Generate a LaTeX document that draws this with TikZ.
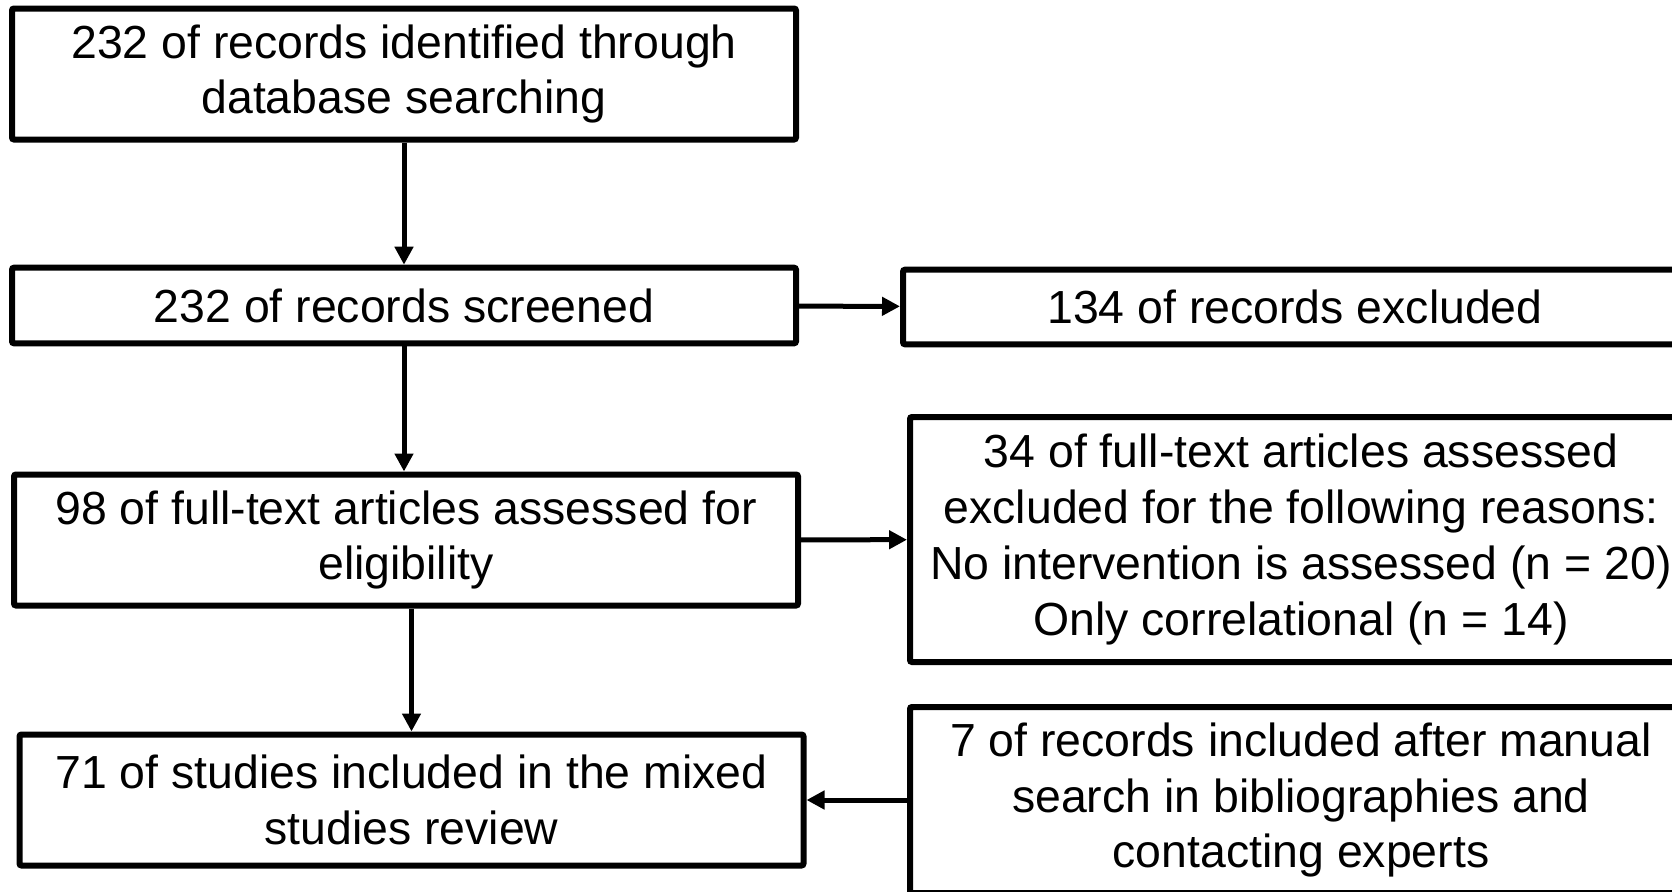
\documentclass[tikz,border=0pt]{standalone}
\usepackage{fontspec}
\setmainfont{Liberation Sans}
\usetikzlibrary{arrows.meta}

\begin{document}
\begin{tikzpicture}[x=0.5pt,y=-0.5pt,
    box/.style={draw, line width=3pt, rounded corners=1pt, align=center, inner sep=0pt,
      font=\fontsize{23.2}{27.9}\selectfont, minimum width=392pt},
    arr/.style={line width=2.5pt, -{Triangle[length=9pt,width=9pt]}}]
  \useasboundingbox (0,0) rectangle (1672,891);
  \clip (0,0) rectangle (1672,891);
  \node[box, minimum height=65.5pt] (ident) at (404,74)
    {232 of records identified through\\database searching};
  \node[box, minimum height=37.8pt] (screen) at (404,305.5)
    {232 of records screened};
  \node[box, minimum height=37.3pt] (excl) at (1295,307)
    {134 of records excluded};
  \node[box, minimum height=65.5pt] (full) at (406,540)
    {98 of full-text articles assessed for\\eligibility};
  \node[box, minimum height=122.5pt, minimum width=391pt] (reasons) at (1301,539.5)
    {34 of full-text articles assessed\\excluded for the following reasons:\\No intervention is assessed (n = 20)\\Only correlational (n = 14)};
  \node[box, minimum height=65.5pt] (incl) at (411.5,800)
    {71 of studies included in the mixed\\studies review};
  \node[box, minimum height=93pt, minimum width=391pt] (manual) at (1301,800)
    {7 of records included after manual\\search in bibliographies and\\contacting experts};
  % connectors
  \draw[arr] (ident) -- (screen);
  \draw[arr] (screen) -- (screen |- full.north);
  \draw[arr] (full.south -| incl.north) -- (incl);
  \draw[arr] (screen) -- (excl);
  \draw[arr] (full) -- (reasons);
  \draw[arr] (manual) -- (incl);
\end{tikzpicture}
\end{document}
